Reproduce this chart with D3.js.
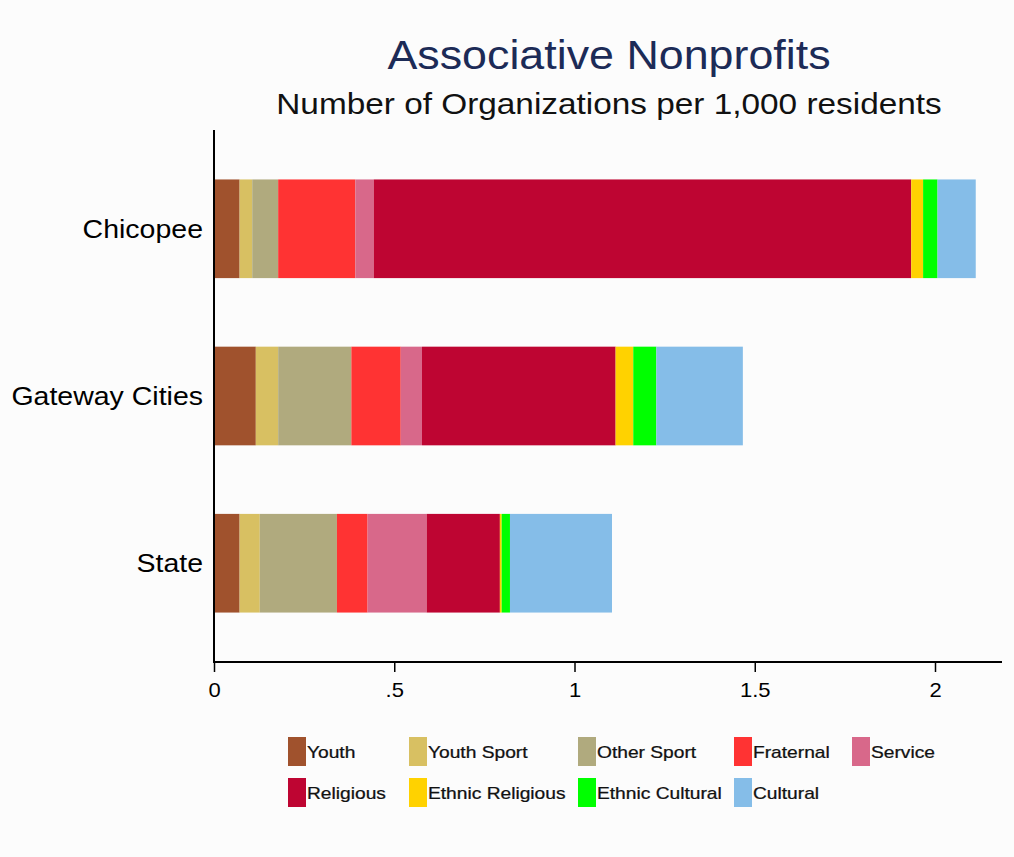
<!DOCTYPE html>
<html>
<head>
<meta charset="utf-8">
<script src="https://cdn.jsdelivr.net/npm/d3@7"></script>
<style>
  body { margin: 0; background: #fcfcfc; }
  svg { display: block; font-family: "Liberation Sans", Arial, sans-serif; }
</style>
</head>
<body>
<div id="chart"></div>
<script>
// places (top to bottom)
var places = ["Chicopee", "Gateway Cities", "State"];

// organization types, in stacking order
var types = ["Youth", "Youth Sport", "Other Sport", "Fraternal", "Service",
             "Religious", "Ethnic Religious", "Ethnic Cultural", "Cultural"];

var typeColors = ["#a0522d", "#d8c062", "#b0aa7e", "#ff3333", "#d8688a",
                  "#be0532", "#ffd200", "#00ff00", "#85bde8"];

// organizations per 1,000 residents, one array per place
var chicopee = [0.071, 0.035, 0.072, 0.214, 0.051, 1.491, 0.033, 0.040, 0.106];
var gateway  = [0.116, 0.062, 0.203, 0.137, 0.059, 0.537, 0.049, 0.064, 0.240];
var state    = [0.071, 0.056, 0.214, 0.085, 0.164, 0.203, 0.005, 0.023, 0.283];

var ticks = [0, 0.5, 1, 1.5, 2];
var tickLabels = ["0", ".5", "1", "1.5", "2"];

var W = 1014, H = 857;
var svg = d3.select("#chart").append("svg")
    .attr("width", W).attr("height", H);

svg.append("rect").attr("width", W).attr("height", H).attr("fill", "#fcfcfc");

// the source picture is stretched sideways a bit, so text gets a scaleX
function placeText(sel, px, py, sx) {
    return sel.attr("transform", "translate(" + px + "," + py + ") scale(" + sx + ",1)");
}

// titles
placeText(svg.append("text"), 609, 69, 1.12)
    .attr("text-anchor", "middle")
    .attr("font-size", 40)
    .attr("fill", "#1c2b57")
    .text("Associative Nonprofits");
placeText(svg.append("text"), 609, 114, 1.15)
    .attr("text-anchor", "middle")
    .attr("font-size", 29)
    .attr("fill", "#111")
    .text("Number of Organizations per 1,000 residents");

var x = d3.scaleLinear().domain([0, 2]).range([214, 935]);
var y = d3.scaleBand().domain(places).range([146, 646]).paddingInner(0.41).paddingOuter(0.2);

var rows = [chicopee, gateway, state].map(function (vals, i) {
    var r = { place: places[i] };
    types.forEach(function (t, j) { r[t] = vals[j]; });
    return r;
});

var stack = d3.stack().keys(types)(rows);

svg.append("g").selectAll("g")
    .data(stack)
    .enter().append("g")
    .attr("fill", function (d, i) { return typeColors[i]; })
    .selectAll("rect")
    .data(function (d) { return d; })
    .enter().append("rect")
    .attr("x", function (d) { return x(d[0]); })
    .attr("width", function (d) { return x(d[1]) - x(d[0]); })
    .attr("y", function (d) { return y(d.data.place); })
    .attr("height", y.bandwidth());

// axes
var axisY = 662;
svg.append("line")
    .attr("x1", 214).attr("x2", 214).attr("y1", 130).attr("y2", axisY)
    .attr("stroke", "#000").attr("stroke-width", 2);

var xAxis = d3.axisBottom(x)
    .tickValues(ticks)
    .tickFormat(function (d, i) { return tickLabels[i]; })
    .tickSize(10).tickSizeOuter(0).tickPadding(11);

var gx = svg.append("g")
    .attr("transform", "translate(0," + axisY + ")")
    .call(xAxis);
gx.select(".domain").remove();
gx.selectAll(".tick line").attr("stroke", "#000").attr("stroke-width", 1.5);
gx.selectAll(".tick text").attr("font-size", 20).attr("fill", "#000")
    .attr("transform", "scale(1.1,1)")
    .attr("x", 0)
    .attr("font-family", "\"Liberation Sans\", Arial, sans-serif");
svg.append("line")
    .attr("x1", 213).attr("x2", 1002).attr("y1", axisY).attr("y2", axisY)
    .attr("stroke", "#000").attr("stroke-width", 2);

// category labels
svg.append("g").selectAll("text")
    .data(places)
    .enter().append("text")
    .attr("transform", function (d) {
        return "translate(203," + (y(d) + y.bandwidth() / 2 + 9) + ") scale(1.14,1)";
    })
    .attr("text-anchor", "end")
    .attr("font-size", 25)
    .attr("fill", "#000")
    .text(function (d) { return d; });

// legend
var legendCols = [288, 409, 578, 734, 852];
var legend = svg.append("g").selectAll("g")
    .data(types)
    .enter().append("g")
    .attr("transform", function (d, i) {
        return "translate(" + legendCols[i % 5] + "," + (737 + Math.floor(i / 5) * 41) + ")";
    });
legend.append("rect")
    .attr("width", 18).attr("height", 29)
    .attr("fill", function (d, i) { return typeColors[i]; });
legend.append("text")
    .attr("transform", "translate(19,21) scale(1.2,1)")
    .attr("font-size", 16)
    .attr("fill", "#111")
    .attr("stroke", "#111").attr("stroke-width", 0.25)
    .text(function (d) { return d; });
</script>
</body>
</html>
